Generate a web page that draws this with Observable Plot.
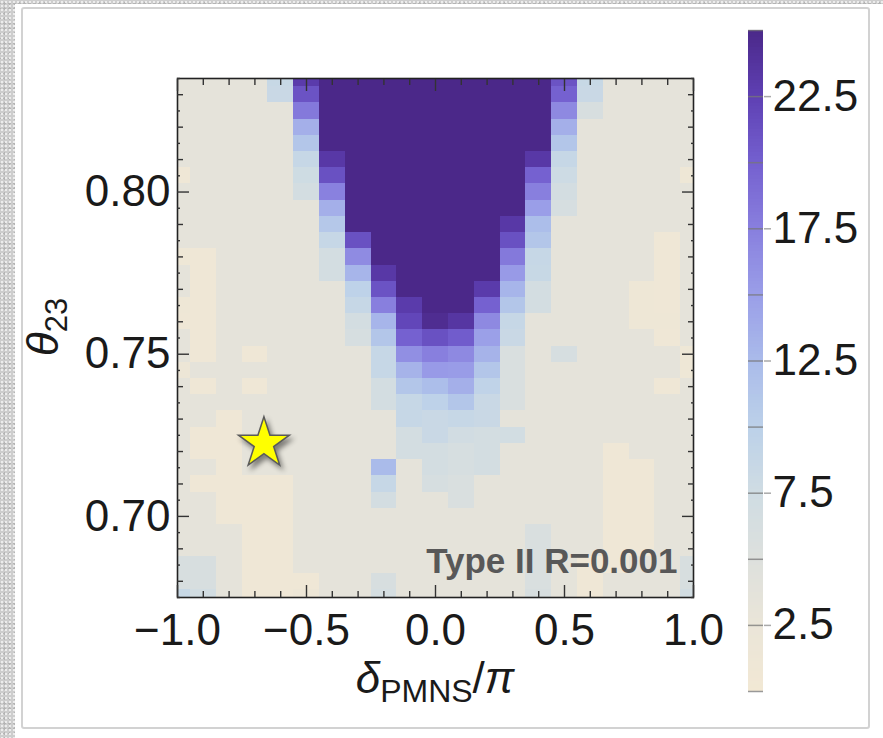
<!DOCTYPE html>
<html>
<head>
<meta charset="utf-8">
<script src="https://cdn.jsdelivr.net/npm/d3@7"></script>
<script src="https://cdn.jsdelivr.net/npm/@observablehq/plot@0.6"></script>
<style>
  html, body { margin: 0; padding: 0; }
  body { width: 883px; height: 738px; position: relative; overflow: hidden; background: #fff;
         font-family: "Liberation Sans", Arial, Helvetica, sans-serif; }
  #texture { position: absolute; inset: 0;
    background-color: #cdcdcd;
    background-image: radial-gradient(#ececec 1px, transparent 1.3px), radial-gradient(#b4b4b4 1px, transparent 1.3px);
    background-size: 4px 4px, 5px 5px; background-position: 0 0, 2px 1px; }
  #sheet { position: absolute; left: 15px; top: 4px; right: 0; bottom: 0; background: #fff; }
  #panel { position: absolute; left: 21px; top: 7px; width: 845px; height: 718px;
    border: 2px solid #d2d2d2; border-radius: 3px; background: #fff; }
  #main, #bar { position: absolute; top: 0; }
  #main { left: 0; }
  #bar { left: 720px; }
  svg { overflow: visible; }
</style>
</head>
<body>
<div id="texture"></div>
<div id="sheet"></div>
<div id="panel"></div>
<div id="main"></div>
<div id="bar"></div>
<script>
// grid of the scan: δ_PMNS/π (columns) and θ23 (rows, top to bottom)
const deltaOverPi = [-1.0, -0.9, -0.8, -0.7, -0.6, -0.5, -0.4, -0.3, -0.2, -0.1, 0.0,
                     0.1, 0.2, 0.3, 0.4, 0.5, 0.6, 0.7, 0.8, 0.9, 1.0];
const theta23 = [0.835, 0.830, 0.825, 0.820, 0.815, 0.810, 0.805, 0.800, 0.795, 0.790, 0.785,
                 0.780, 0.775, 0.770, 0.765, 0.760, 0.755, 0.750, 0.745, 0.740, 0.735, 0.730,
                 0.725, 0.720, 0.715, 0.710, 0.705, 0.700, 0.695, 0.690, 0.685, 0.680, 0.675];

// Δχ² per grid point, one row per θ23 value (δ from -1 to 1)
const chi2 = [
  [3.5,3.5,3.5,3.5,8.5,23, 27,27,27,27,27,27,27,27,27,21, 8.5,3.5,3.5,3.5,3.5], // 0.835
  [3.5,3.5,3.5,3.5,8.3,21, 27,27,27,27,27,27,27,27,27,19.9,8.3,3.5,3.5,3.5,3.5], // 0.830
  [3.5,3.5,3.5,3.5,3.5,18, 27,27,27,27,27,27,27,27,27,16.7,6, 3.5,3.5,3.5,3.5], // 0.825
  [3.5,3.5,3.5,3.5,3.5,13.5,27,27,27,27,27,27,27,27,27,13.5,3.5,3.5,3.5,3.5,3.5], // 0.820
  [3.5,3.5,3.5,3.5,3.5,11.2,27,27,27,27,27,27,27,27,27,11.2,3.5,3.5,3.5,3.5,3.5], // 0.815
  [3.5,3.5,3.5,3.5,3.5,8.7,23.3,27,27,27,27,27,27,27,23.3,8.7,3.5,3.5,3.5,3.5,3.5], // 0.810
  [1.0,3.5,3.5,3.5,3.5,7.6,21.2,27,27,27,27,27,27,27,19.9,7.8,3.5,3.5,3.5,3.5,1.2], // 0.805
  [3.5,3.5,3.5,3.5,3.5,6.7,17.3,27,27,27,27,27,27,27,17.5,6.7,3.5,3.5,3.5,3.5,3.5], // 0.800
  [3.5,3.5,3.5,3.5,3.5,3.5,13.5,27,27,27,27,27,27,27,15, 6.2,3.5,3.5,3.5,3.5,3.5], // 0.795
  [3.5,3.5,3.5,3.5,3.5,3.5,11, 27,27,27,27,27,27,23.3,12.2,3.5,3.5,3.5,3.5,3.5,3.5], // 0.790
  [3.5,3.5,3.5,3.5,3.5,3.5,8.7,21.2,27,27,27,27,27,21.2,11.2,3.5,3.5,3.5,3.5,1.0,3.5], // 0.785
  [1.2,1.0,3.5,3.5,3.5,3.5,6.7,16.5,27,27,27,27,27,18, 8.7,3.5,3.5,3.5,3.5,1.0,3.5], // 0.780
  [3.5,1.0,3.5,3.5,3.5,3.5,6.7,13, 23.3,27,27,27,27,15.3,8.5,3.5,3.5,3.5,3.5,1.0,3.5], // 0.775
  [3.5,1.0,3.5,3.5,3.5,3.5,3.5,9.8,21, 27,27,27,23, 13, 6.7,3.5,3.5,3.5,1.2,1.0,3.5], // 0.770
  [1.2,1.0,3.5,3.5,3.5,3.5,3.5,8.7,17.5,23,27,27,19.9,11.2,6.7,3.5,3.5,3.5,1.2,1.0,3.5], // 0.765
  [1.0,1.0,3.5,3.5,3.5,3.5,3.5,6.7,13, 22,24.5,23.5,16.7,8.7,3.5,3.5,3.5,3.5,1.2,1.2,3.5], // 0.760
  [3.5,1.0,3.5,3.5,3.5,3.5,3.5,6.2,11.2,19.9,21.2,20.3,14.8,8.3,3.5,3.5,3.5,3.5,3.5,1.0,3.5], // 0.755
  [3.5,1.0,3.5,1.0,3.5,3.5,3.5,3.5,8.7,16.2,17.5,16.7,13.2,5.7,3.5,6.2,3.5,3.5,3.5,3.5,1.2], // 0.750
  [1.5,3.5,3.5,3.5,3.5,3.5,3.5,3.5,8.7,13.2,15.3,15.2,11.2,5.7,3.5,3.5,3.5,3.5,3.5,3.5,1.2], // 0.745
  [3.5,1.0,3.5,1.0,3.5,3.5,3.5,3.5,6.7,11.2,12.2,13.5,9.5,5.7,3.5,3.5,3.5,3.5,3.5,1.0,3.5], // 0.740
  [3.5,3.5,3.5,3.5,3.5,3.5,3.5,3.5,6.7,8.7,9.8,11.2,8.3,5.7,3.5,3.5,3.5,3.5,3.5,3.5,3.5], // 0.735
  [3.5,3.5,1.0,3.5,3.5,3.5,3.5,3.5,3.5,8.7,8.3,8.7,8.3,3.5,3.5,3.5,3.5,3.5,3.5,3.5,3.5], // 0.730
  [3.5,1.0,1.0,3.5,3.5,3.5,3.5,3.5,3.5,6.7,8.3,7.2,6.7,7.0,3.5,3.5,3.5,3.5,3.5,3.5,3.5], // 0.725
  [3.5,1.0,1.0,3.5,3.5,3.5,3.5,3.5,3.5,6.7,6.7,6.2,6.7,3.5,3.5,3.5,3.5,1.0,3.5,3.5,3.5], // 0.720
  [3.5,3.5,1.0,3.5,3.5,3.5,3.5,3.5,12.5,3.5,6.7,6.2,6.7,3.5,3.5,3.5,3.5,1.0,1.0,3.5,3.5], // 0.715
  [3.5,1.0,1.0,1.0,1.0,3.5,3.5,3.5,8.7,3.5,6.2,5.7,3.5,3.5,3.5,3.5,3.5,1.0,1.0,3.5,3.5], // 0.710
  [3.5,3.5,1.0,1.0,1.0,3.5,3.5,3.5,6.7,3.5,3.5,5.7,3.5,3.5,3.5,3.5,3.5,1.0,1.0,3.5,3.5], // 0.705
  [3.5,3.5,1.0,1.0,1.0,3.5,3.5,3.5,3.5,3.5,3.5,3.5,3.5,3.5,3.5,3.5,3.5,1.0,1.0,3.5,3.5], // 0.700
  [3.5,3.5,3.5,1.0,1.0,3.5,3.5,3.5,3.5,3.5,3.5,3.5,3.5,3.5,5.7,3.5,3.5,1.0,1.0,3.5,3.5], // 0.695
  [3.5,3.5,3.5,1.0,1.0,3.5,3.5,3.5,3.5,3.5,3.5,3.5,3.5,3.5,5.7,3.5,3.5,1.0,1.0,3.5,3.5], // 0.690
  [6.0,6.0,3.5,1.0,1.0,3.5,3.5,3.5,3.5,3.5,3.5,3.5,3.5,3.5,5.7,3.5,1.0,1.0,3.5,3.5,6.0], // 0.685
  [6.0,6.0,3.5,1.0,1.0,1.0,3.5,3.5,6.0,3.5,3.5,3.5,3.5,3.5,5.7,3.5,1.0,3.5,3.5,3.5,6.0], // 0.680
  [8.5,7.0,3.5,1.0,1.0,1.5,3.5,3.5,6.5,3.5,3.5,3.5,3.5,3.5,6.0,3.5,1.0,3.5,3.5,3.5,7.0]  // 0.675
];

// best-fit point marked with a star
const bestFit = [{delta: -0.665, theta: 0.7225}];
const panelNote = ["Type II R=0.001"];

// colour bar stops
const legendStops = [0, 2.5, 5, 7.5, 10, 12.5, 15, 17.5, 20, 22.5, 25];
const legendColors = ["#f2e8d4", "#eae5d8", "#dde0dd", "#cfdce3", "#bcd1e9", "#aabbea",
                      "#9a9ee8", "#887fde", "#7460cf", "#5e40b3", "#4b2889"];
const legendTicks = [2.5, 7.5, 12.5, 17.5, 22.5];

// frame ticks
const xMajor = [-1, -0.5, 0, 0.5, 1];
const xMinor = [-0.9, -0.8, -0.7, -0.6, -0.4, -0.3, -0.2, -0.1, 0.1, 0.2, 0.3, 0.4, 0.6, 0.7, 0.8, 0.9];
const yMajor = [0.70, 0.75, 0.80];
const yMinor = [0.68, 0.69, 0.71, 0.72, 0.73, 0.74, 0.76, 0.77, 0.78, 0.79, 0.81, 0.82, 0.83];
const yMicro = [0.675, 0.685, 0.695, 0.705, 0.715, 0.725, 0.735, 0.745, 0.755, 0.765, 0.775, 0.785, 0.795, 0.805, 0.815, 0.825, 0.835];

const xDomain = [-1, 1];
const yDomain = [0.675, 0.835];
const color = {type: "linear", domain: legendStops, range: legendColors, clamp: true};

const halfDx = Math.abs(deltaOverPi[1] - deltaOverPi[0]) / 2;
const halfDy = Math.abs(theta23[0] - theta23[1]) / 2;
const cells = [];
theta23.forEach((t, i) => deltaOverPi.forEach((d, j) => cells.push({d, t, v: chi2[i][j]})));

const font = "Liberation Sans, Arial, Helvetica, sans-serif";
const ink = "#1a1a1a";
const tickInk = "#333";
const minus = s => s.replace("-", "\u2212");

const tickSet = (axis, anchor, values, size) =>
  axis(values, {anchor, tickSize: -size, fill: "none", stroke: tickInk, strokeWidth: 1.4, label: null});

const main = Plot.plot({
  width: 720, height: 738,
  marginLeft: 177, marginRight: 27, marginTop: 78, marginBottom: 141,
  x: {domain: xDomain},
  y: {domain: yDomain},
  color,
  style: {fontFamily: font, background: "transparent", color: ink},
  marks: [
    Plot.rect(cells, {
      x1: c => Math.max(xDomain[0], c.d - halfDx), x2: c => Math.min(xDomain[1], c.d + halfDx),
      y1: c => Math.max(yDomain[0], c.t - halfDy), y2: c => Math.min(yDomain[1], c.t + halfDy),
      fill: "v", inset: 0, shapeRendering: "crispEdges"
    }),
    Plot.text(panelNote, {frameAnchor: "bottom-right", dx: -16, dy: -25, textAnchor: "end",
      lineAnchor: "bottom", fontSize: 35, fontWeight: "bold", fill: "#585858"}),
    Plot.dot(bestFit, {x: "delta", y: "theta", symbol: "star", r: 16, fill: "#ffff00",
      stroke: "#5a5a5a", strokeWidth: 1.5}),
    Plot.frame({stroke: "#222", strokeWidth: 1.6}),
    tickSet(Plot.axisX, "bottom", xMajor, 12), tickSet(Plot.axisX, "bottom", xMinor, 6),
    tickSet(Plot.axisX, "top", xMajor, 12), tickSet(Plot.axisX, "top", xMinor, 6),
    tickSet(Plot.axisY, "left", yMajor, 12), tickSet(Plot.axisY, "left", yMinor, 6),
    tickSet(Plot.axisY, "left", yMicro, 3),
    tickSet(Plot.axisY, "right", yMajor, 12), tickSet(Plot.axisY, "right", yMinor, 6),
    tickSet(Plot.axisY, "right", yMicro, 3),
    Plot.axisX(xMajor, {anchor: "bottom", tickSize: 0, tickPadding: 16, fontSize: 44, fill: ink,
      tickFormat: d => minus(d.toFixed(1)), label: null}),
    Plot.axisY(yMajor, {anchor: "left", tickSize: 0, tickPadding: 7, fontSize: 44, fill: ink,
      tickFormat: d => d.toFixed(2), label: null})
  ]
});
document.getElementById("main").append(main);

// drop shadow under the star
d3.select(main).selectAll('g[aria-label="dot"]').style("filter", "drop-shadow(3px 4px 2.5px rgba(0,0,0,0.45))");

// axis titles with sub-scripts
const svgMain = d3.select(main);
const xt = svgMain.append("text").attr("x", 435).attr("y", 693).attr("text-anchor", "middle")
  .attr("fill", ink).style("font-family", font).style("font-size", "44px");
xt.append("tspan").attr("font-style", "italic").text("δ");
xt.append("tspan").attr("font-size", "32px").attr("dy", 9).text("PMNS");
xt.append("tspan").attr("dy", -9).text("/");
xt.append("tspan").attr("font-style", "italic").text("π");

const yt = svgMain.append("text").attr("transform", "translate(58,327) rotate(-90)").attr("text-anchor", "middle")
  .attr("fill", ink).style("font-family", font).style("font-size", "44px");
yt.append("tspan").attr("font-style", "italic").text("θ");
yt.append("tspan").attr("font-size", "31px").attr("dy", 9).text("23");

// vertical colour bar
const rampStep = 0.125;
const ramp = d3.range(0, 25, rampStep);
const bar = Plot.plot({
  width: 163, height: 738,
  marginLeft: 28, marginRight: 120, marginTop: 30, marginBottom: 47,
  x: {domain: [0, 1], axis: null},
  y: {domain: [legendStops[0], legendStops[legendStops.length - 1]]},
  color,
  style: {fontFamily: font, background: "transparent", color: ink},
  marks: [
    Plot.rect(ramp, {x1: () => 0, x2: () => 1, y1: d => d, y2: d => d + rampStep, fill: d => d + rampStep / 2,
      inset: 0, shapeRendering: "crispEdges"}),
    Plot.ruleY(legendStops, {stroke: "#777", strokeOpacity: 0.75, strokeWidth: 1.5}),
    Plot.axisY(legendTicks, {anchor: "right", tickSize: 7, tickPadding: 2, stroke: "#aaa",
      strokeWidth: 1.5, fontSize: 44, fill: ink, tickFormat: d => d.toFixed(1), label: null})
  ]
});
document.getElementById("bar").append(bar);
</script>
</body>
</html>
